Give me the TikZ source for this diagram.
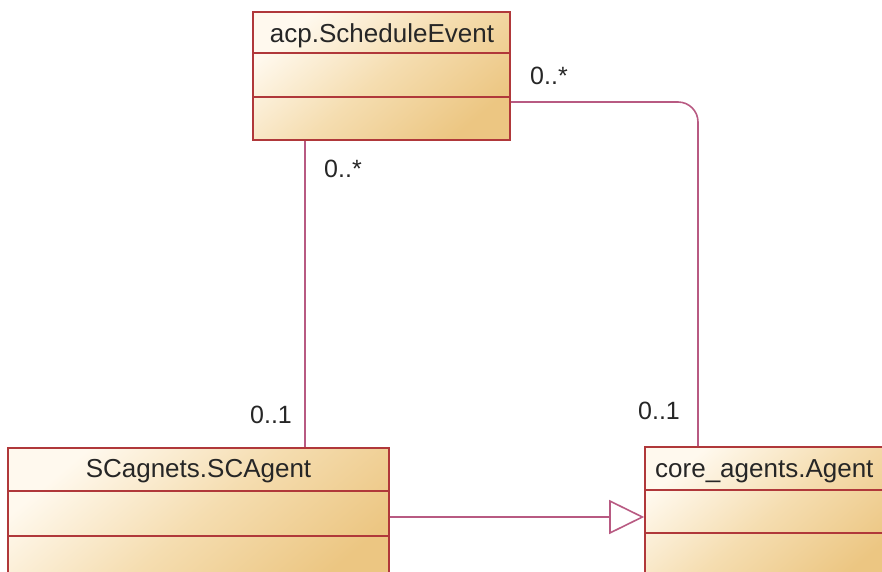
\documentclass[tikz,border=0pt]{standalone}
\usepackage{fontspec}
\setmainfont{Liberation Sans}
\usetikzlibrary{arrows.meta}
\definecolor{bord}{HTML}{B0383A}
\definecolor{conn}{HTML}{B85A82}
\definecolor{fillA}{HTML}{FFF9EE}
\definecolor{fillM}{HTML}{F5DDB0}
\definecolor{fillB}{HTML}{ECC682}
\begin{document}
\begin{tikzpicture}[x=1pt,y=-1pt,
  cls/.style={draw=bord, line width=1.6pt, rectangle, inner sep=0pt,
    top color=fillA, bottom color=fillB, middle color=fillM, shading angle=40},
  divl/.style={draw=bord, line width=1.6pt},
  title/.style={inner sep=0pt, font=\fontsize{26}{30}\selectfont, text=black!85},
  mult/.style={inner sep=0pt, font=\fontsize{25}{30}\selectfont, text=black!85},
  conn/.style={draw=conn, line width=1.6pt}]
\useasboundingbox (0,0) rectangle (882,571);
\clip (0,0) rectangle (882,571);
% classes
\node[cls, minimum width=257pt, minimum height=128pt] (se) at (381.5,76) {};
\node[cls, minimum width=381pt, minimum height=142pt] (sca) at (198.5,519) {};
\node[cls, minimum width=243pt, minimum height=143pt] (ag) at (766.5,518.5) {};
% compartments
\coordinate (d1) at (0,53);  \coordinate (d2) at (0,97);
\coordinate (d3) at (0,491); \coordinate (d4) at (0,536);
\coordinate (d5) at (0,490); \coordinate (d6) at (0,533);
\draw[divl] (se.west |- d1) -- (se.east |- d1);
\draw[divl] (se.west |- d2) -- (se.east |- d2);
\draw[divl] (sca.west |- d3) -- (sca.east |- d3);
\draw[divl] (sca.west |- d4) -- (sca.east |- d4);
\draw[divl] (ag.west |- d5) -- (ag.east |- d5);
\draw[divl] (ag.west |- d6) -- (ag.east |- d6);
% titles
\node[title] (set) at (382,36) {acp.ScheduleEvent};
\node[title] (scat) at (198.5,471) {SCagnets.SCAgent};
\node[title, anchor=west] (agt) at (655,471) {core\_agents.Agent};
% connectors
\coordinate (v1) at (305,300);
\coordinate (h2) at (0,102);
\coordinate (v2) at (698,300);
\coordinate (h3) at (0,517);
\draw[conn] (se.south -| v1) -- (sca.north -| v1);
\draw[conn, rounded corners=20pt] (se.east |- h2) -| (ag.north -| v2);
\draw[conn, -{Triangle[open, length=35pt, width=34pt, fill=white]}] (sca.east |- h3) -- (ag.west |- h3);
% multiplicities
\node[mult] (m1) at (549,76) {0..*};
\node[mult] (m2) at (343,169) {0..*};
\node[mult] (m3) at (271,415) {0..1};
\node[mult] (m4) at (659,411) {0..1};
\end{tikzpicture}
\end{document}
